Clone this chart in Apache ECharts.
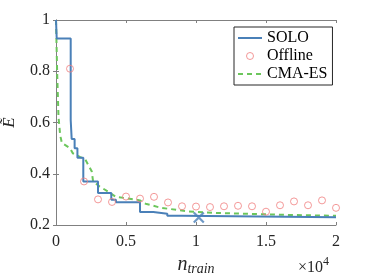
<!DOCTYPE html>
<html><head><meta charset="utf-8">
<script src="https://cdn.jsdelivr.net/npm/echarts@6/dist/echarts.min.js"></script>
<style>html,body{margin:0;padding:0;background:#fff}#c{width:371px;height:278px}</style>
</head><body><div id="c"></div>
<script>
// SOLO step curve (change points)
const soloX = [0, 50, 1050, 1120, 1330, 1530, 1950, 3000, 3950, 4280, 6000, 6950, 7950, 9000, 20000];
const soloY = [1.0, 0.928, 0.61, 0.536, 0.50, 0.462, 0.37, 0.325, 0.299, 0.289, 0.251, 0.244, 0.236, 0.230, 0.230];
// SOLO best point marker
const bestX = [10200];
const bestY = [0.229];
// Offline points
const offX = [1000, 2000, 3000, 4000, 5000, 6000, 7000, 8000, 9000, 10000, 11000, 12000, 13000, 14000, 15000, 16000, 17000, 18000, 19000, 20000];
const offY = [0.81, 0.37, 0.30, 0.29, 0.311, 0.303, 0.31, 0.288, 0.273, 0.272, 0.27, 0.273, 0.275, 0.273, 0.252, 0.277, 0.292, 0.277, 0.296, 0.267];
// CMA-ES curve
const cmaX = [0, 80, 180, 300, 420, 1000, 1200, 1700, 2100, 2550, 2650, 3100, 3700, 4300, 5000, 6000, 6400, 7500, 9500, 11500, 14000, 16000, 20000];
const cmaY = [1.0, 0.80, 0.62, 0.55, 0.52, 0.50, 0.48, 0.466, 0.455, 0.41, 0.37, 0.351, 0.331, 0.309, 0.305, 0.296, 0.283, 0.267, 0.253, 0.247, 0.243, 0.240, 0.236];
// axes
const xTicks = [0, 5000, 10000, 15000, 20000];
const yTicks = [0.2, 0.4, 0.6, 0.8, 1];

const zip = (a, b) => a.map((v, i) => [v, b[i]]);
const FONT = 'Liberation Serif';
const AX = '#808080';
const TXT = '#262626';
const BLUE = '#4a80b8';
const GREEN = '#6cc65c';
const RED = '#f08080';

const chart = echarts.init(document.getElementById('c'), null, {renderer: 'canvas'});
const baseX = {
  type: 'value', min: xTicks[0], max: xTicks[xTicks.length - 1], interval: 5000,
  axisLine: {show: true, lineStyle: {color: AX, width: 1}},
  axisTick: {show: true, inside: true, length: 3, lineStyle: {color: AX}},
  splitLine: {show: false}
};
const baseY = {
  type: 'value', min: yTicks[0], max: yTicks[yTicks.length - 1], interval: 0.2,
  axisLine: {show: true, lineStyle: {color: AX, width: 1}},
  axisTick: {show: true, inside: true, length: 3, lineStyle: {color: AX}},
  splitLine: {show: false}
};
chart.setOption({
  animation: false,
  textStyle: {fontFamily: FONT},
  grid: {left: 56, right: 35, top: 20, bottom: 53, containLabel: false, outerBoundsMode: 'none'},
  xAxis: [
    Object.assign({}, baseX, {position: 'bottom',
      name: '{n|n}{s|train}', nameLocation: 'middle', nameGap: 23,
      nameTextStyle: {rich: {
        n: {fontFamily: FONT, fontStyle: 'italic', fontSize: 20, color: TXT},
        s: {fontFamily: FONT, fontStyle: 'italic', fontSize: 14, color: TXT, padding: [8, 0, 0, 0]}
      }},
      axisLabel: {show: true, margin: 9, color: TXT, fontFamily: FONT, fontSize: 16,
      formatter: v => String(+(v / 10000).toFixed(1))}}),
    Object.assign({}, baseX, {position: 'top', axisLabel: {show: false}})
  ],
  yAxis: [
    Object.assign({}, baseY, {position: 'left',
      name: 'Ẽ', nameLocation: 'middle', nameRotate: 90, nameGap: 38,
      nameTextStyle: {fontFamily: FONT, fontStyle: 'italic', fontSize: 17, color: TXT},
      axisLabel: {show: true, margin: 6, color: TXT, fontFamily: FONT, fontSize: 16,
      formatter: v => String(+v.toFixed(1))}}),
    Object.assign({}, baseY, {position: 'right', axisLabel: {show: false}})
  ],
  legend: {
    orient: 'vertical', left: 234, top: 27,
    data: [
      {name: 'SOLO', itemStyle: {opacity: 0}},
      {name: 'Offline', itemStyle: {borderWidth: 1}},
      {name: 'CMA-ES', itemStyle: {opacity: 0}}
    ],
    itemWidth: 24, itemHeight: 7, itemGap: 2,
    padding: [3, 5, 3, 3],
    borderColor: '#262626', borderWidth: 1, backgroundColor: '#fff',
    textStyle: {fontFamily: FONT, fontSize: 16, color: '#000'}
  },
  series: [
    {name: 'SOLO', type: 'line', step: 'end', data: zip(soloX, soloY), symbol: 'none',
      lineStyle: {color: BLUE, width: 2}, itemStyle: {color: BLUE}, z: 3},
    {name: 'Offline', type: 'scatter', data: zip(offX, offY), symbol: 'circle', symbolSize: 7,
      itemStyle: {color: 'rgba(255,255,255,0)', borderColor: RED, borderWidth: 1}, z: 4},
    {name: 'CMA-ES', type: 'line', data: zip(cmaX, cmaY), symbol: 'none',
      lineStyle: {color: GREEN, width: 2, type: [5, 4]}, itemStyle: {color: GREEN}, z: 2},
    {name: 'best', type: 'scatter', data: zip(bestX, bestY), symbol: 'path://M0,0L10,10M10,0L0,10', symbolSize: 10,
      itemStyle: {color: 'none', borderColor: BLUE, borderWidth: 2.2}, z: 5}
  ],
  graphic: [
    {type: 'text', left: 298, top: 256, style: {
      text: '{a|×10}{b|4}', rich: {
        a: {fontFamily: FONT, fontSize: 16, fill: TXT, padding: [6, 0, 0, 0]},
        b: {fontFamily: FONT, fontSize: 12, fill: TXT, padding: [0, 0, 6, 0]}
      }}}
  ]
});
</script></body></html>
